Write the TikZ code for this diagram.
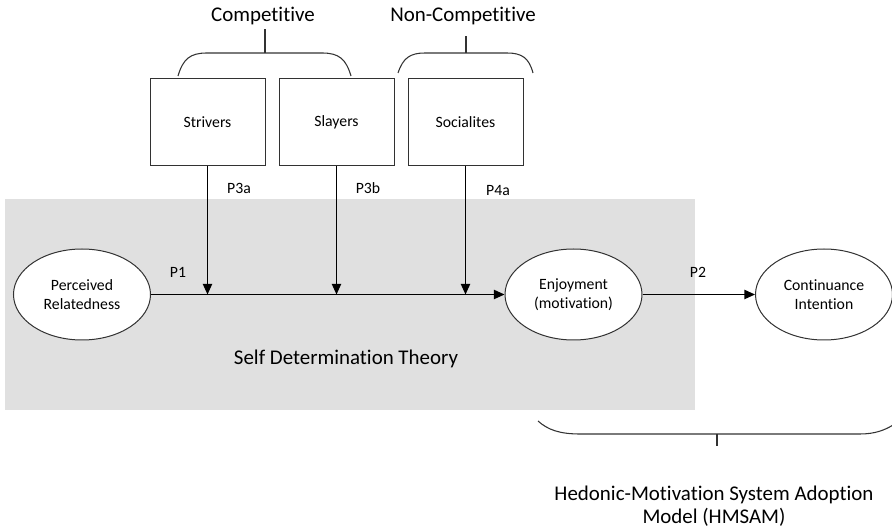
\documentclass[tikz,border=0pt]{standalone}
\usepackage{fontspec}
\setmainfont{Carlito}[Ligatures=NoCommon]
\usetikzlibrary{arrows.meta,shapes.geometric}
\definecolor{sdtgray}{RGB}{224,224,224}
\definecolor{edge}{RGB}{50,50,50}
\tikzset{
  smalltext/.style={font=\fontsize{11.8}{14.6}\selectfont, inner sep=0pt},
  bigtext/.style={font=\fontsize{15.7}{17.5}\selectfont, inner sep=0pt, align=center},
  typebox/.style={draw=edge, line width=0.75pt, minimum width=86.25pt, minimum height=65.25pt, inner sep=0pt, font=\fontsize{11.8}{14.6}\selectfont},
  construct/.style={ellipse, draw=edge, fill=white, line width=0.75pt, minimum width=102.75pt, minimum height=68.25pt, inner sep=0pt, align=center, font=\fontsize{11.8}{14.6}\selectfont},
  arr/.style={-{Triangle[length=8pt,width=7pt]}, line width=1pt, black},
  bracepath/.style={draw=edge, line width=0.8pt},
}
\begin{document}
\begin{tikzpicture}[x=0.75pt,y=-0.75pt]
\useasboundingbox (0,0) rectangle (892,530);
% background theory region
\fill[sdtgray] (5,199) rectangle (695,410);
\node[bigtext] (sdt) at (346,359) {Self Determination Theory};

% constructs
\node[construct] (pr) at (82,294.5) {Perceived\\Relatedness};
\node[construct] (enj) at (573.5,294.5) {Enjoyment\\(motivation)};
\node[construct] (ci) at (824,294.5) {Continuance\\Intention};

% player types
\node[typebox] (str) at (207.5,122.5) {Strivers};
\node[typebox] (sla) at (336.5,122.5) {Slayers};
\node[typebox] (soc) at (465.5,122.5) {Socialites};

% connectors
\draw[arr] (pr.east) -- (enj.west);
\draw[arr] (enj.east) -- (ci.west);
\draw[arr] (str.south) -- (str.south |- pr.east);
\draw[arr] (sla.south) -- (sla.south |- pr.east);
\draw[arr] (soc.south) -- (soc.south |- pr.east);

% path labels
\node[smalltext] (p1) at (178,272) {P1};
\node[smalltext] (p2) at (698,272) {P2};
\node[smalltext] (p3a) at (239,188) {P3a};
\node[smalltext] (p3b) at (368,188) {P3b};
\node[smalltext] (p4a) at (498,191) {P4a};

% group labels
\node[bigtext] (comp) at (263,16) {Competitive};
\node[bigtext] (ncomp) at (463,16) {Non-Competitive};
\node[bigtext] (hmsam) at (714,506) {Hedonic-Motivation System Adoption\\Model (HMSAM)};

% braces
\draw[bracepath] (178,76) .. controls (183,59) and (190,53) .. (207,53) -- (322,53) .. controls (339,53) and (346,59) .. (351,76);
\coordinate (ctick) at (265,29);
\draw[bracepath] (265,53) -- (ctick);
\draw[bracepath] (398,73) .. controls (403,58) and (410,53) .. (425,53) -- (507,53) .. controls (522,53) and (529,58) .. (533,73);
\coordinate (ntick) at (466,36);
\draw[bracepath] (466,53) -- (ntick);
\draw[bracepath] (538,421) .. controls (548,430) and (560,434) .. (580,434) -- (860,434) .. controls (875,434) and (885,430) .. (893,425);
\coordinate (htick) at (717,446);
\draw[bracepath] (717,434) -- (htick);
\end{tikzpicture}
\end{document}
